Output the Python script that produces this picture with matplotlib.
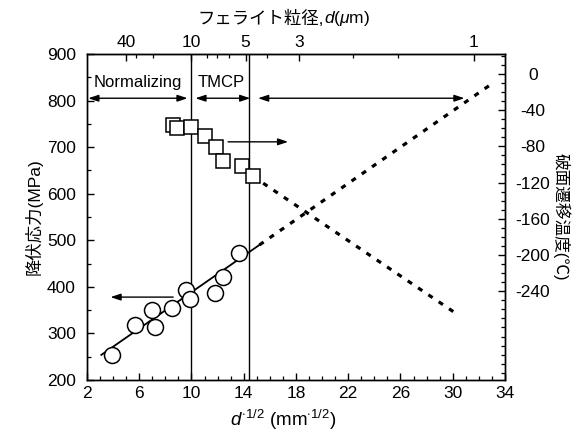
import matplotlib.pyplot as plt
import numpy as np

plt.rcParams['font.family'] = ['Liberation Sans', 'Noto Sans CJK JP', 'DejaVu Sans']
plt.rcParams['axes.unicode_minus'] = False
plt.rcParams['mathtext.fontset'] = 'custom'
plt.rcParams['mathtext.it'] = 'Liberation Sans:italic'
plt.rcParams['mathtext.rm'] = 'Liberation Sans'

# yield stress (circles, left axis) vs d^-1/2
stress_x = [3.9, 5.7, 6.95, 7.2, 8.5, 9.6, 9.9, 11.8, 12.4, 13.6]
stress_y = [254, 318, 350, 314, 354, 393, 375, 386, 422, 472]
fit_x = [3.1, 15.2]
fit_y = [254, 490]
fit_ext_x = [15.2, 33.2]
fit_ext_y = [490, 840]

# fracture transition temperature (squares, right axis)
temp_x = [8.6, 8.9, 10.0, 11.0, 11.9, 12.4, 13.85, 14.7]
temp_y = [-56, -60, -59, -69, -81, -96, -102, -113]
temp_ext_x = [14.7, 30.2]
temp_ext_y = [-113, -264]

# process regions along the top (d^-1/2) and their arrows
region_names = ['Normalizing', 'TMCP']
region_text_x = [5.9, 12.3]
region_bounds = [(2.1, 9.7), (10.3, 14.5), (15.1, 30.9)]
region_lines = [10.0, 14.4]
region_arrow_y = 805

# top axis: ferrite grain size d (um)
grain_d = [40, 10, 5, 3, 1]
grain_minor = [30, 20, 8, 7, 6, 4, 2, 1.5]

fig = plt.figure(figsize=(5.85, 4.34), dpi=100)
ax = fig.add_axes([0.1487, 0.1244, 0.7145, 0.7512])
ax_r = ax.twinx()

for v in region_lines:
    ax.axvline(v, color='black', lw=1.0)

ax.plot(fit_x, fit_y, '-', color='black', lw=1.3)
ax.plot(fit_ext_x, fit_ext_y, color='black', lw=2.3, linestyle=(0, (1.6, 2.3)))
ax.plot(stress_x, stress_y, 'o', ms=11.5, mfc='white', mec='black', mew=1.1)

ax_r.plot(temp_ext_x, temp_ext_y, color='black', lw=2.3, linestyle=(0, (1.6, 2.3)))
ax_r.plot(temp_x, temp_y, 's', ms=10.5, mfc='white', mec='black', mew=1.1)

arrow_kw = dict(arrowstyle='<|-|>,head_length=0.6,head_width=0.2', lw=1.0, color='black',
                shrinkA=0, shrinkB=0)
for x0, x1 in region_bounds:
    ax.annotate('', xy=(x1, region_arrow_y), xytext=(x0, region_arrow_y), arrowprops=arrow_kw)
for name, tx in zip(region_names, region_text_x):
    ax.text(tx, 838, name, ha='center', va='center', fontsize=12)

one_way = dict(arrowstyle='-|>,head_length=0.6,head_width=0.2', lw=1.0, color='black',
               shrinkA=0, shrinkB=0)
ax.annotate('', xy=(3.8, 378), xytext=(8.6, 378), arrowprops=one_way)
ax_r.annotate('', xy=(17.4, -75), xytext=(12.8, -75), arrowprops=one_way)

ax.set_xlim(2, 34)
ax.set_ylim(200, 900)
ax_r.set_ylim(-338, 22)

ax.set_xticks(np.arange(2, 35, 4))
ax.set_xticks(np.arange(2, 35, 1), minor=True)
ax.set_yticks(np.arange(200, 901, 100))
ax.set_yticks(np.arange(200, 901, 50), minor=True)
ax.tick_params(direction='in', labelsize=12.5, width=1.0)
ax.tick_params(axis='x', which='major', length=5, pad=4)
ax.tick_params(axis='y', which='major', length=5, pad=8)
ax.tick_params(which='minor', direction='in', length=3, width=0.9)

ax_r.set_yticks(np.arange(0, -241, -40))
ax_r.set_yticks(np.arange(20, -339, -10), minor=True)
ax_r.tick_params(axis='y', direction='in', length=5, width=1.0, labelsize=12.5, pad=20)
ax_r.tick_params(axis='y', which='minor', direction='in', length=3, width=0.9)
for lbl in ax_r.get_yticklabels():
    lbl.set_ha('center')

top = ax.secondary_xaxis('top')
top.set_xticks([np.sqrt(1000 / d) for d in grain_d], [str(d) for d in grain_d])
top.set_xticks([np.sqrt(1000 / d) for d in grain_minor], minor=True)
top.tick_params(direction='in', length=5, width=1.0, labelsize=12.5, pad=3)
top.tick_params(which='minor', direction='in', length=3, width=0.9)

# top title in two pieces: CJK part and italic math part
fig.text(0.553, 0.958, 'フェライト粒径,', ha='right', va='center', fontsize=12.5)
fig.text(0.553, 0.958, '$d$($\\mu$m)', ha='left', va='center', fontsize=12.5)

fig.text(0.484, 0.032, '$d^{\\cdot 1/2}$ (mm$^{\\cdot 1/2}$)', ha='center', va='center',
         fontsize=13.5)
ax.set_ylabel('降伏応力(MPa)', fontsize=12.5, labelpad=3)
ax_r.set_ylabel('破面遷移温度(℃)', fontsize=12, rotation=-90, labelpad=14)

for a in (ax, ax_r):
    for s in a.spines.values():
        s.set_linewidth(1.0)

fig.savefig('out.png', dpi=100)
